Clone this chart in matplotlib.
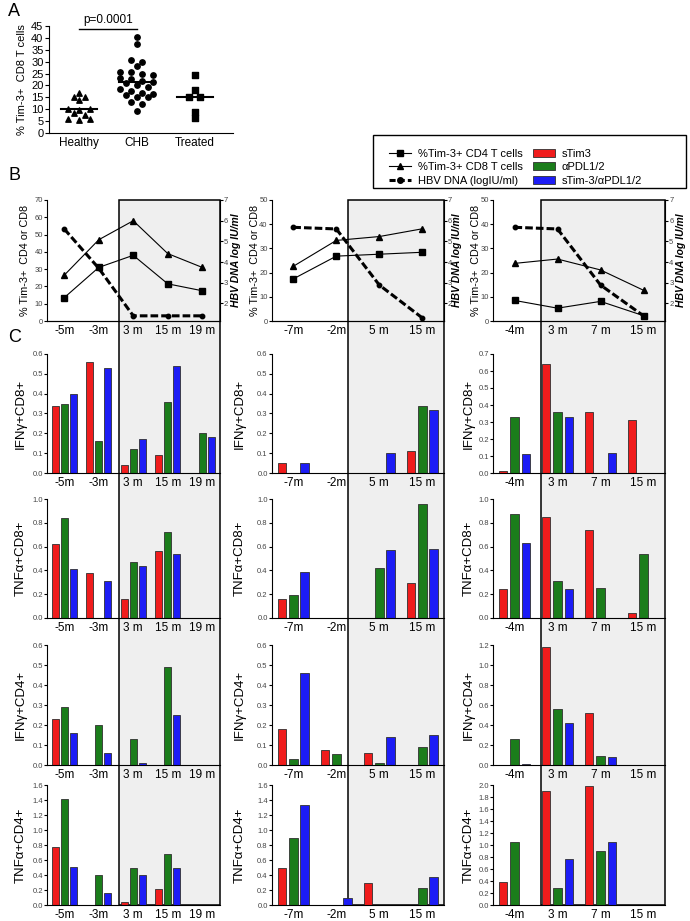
import numpy as np
import matplotlib
matplotlib.use('Agg')
import matplotlib.pyplot as plt
from matplotlib.patches import Rectangle, Patch
from matplotlib.lines import Line2D

plt.rcParams['font.family'] = ['Liberation Sans', 'DejaVu Sans']

W, H = 690, 921

# ---- panel A data
groups = ['Healthy', 'CHB', 'Treated']
healthy = [16.8, 15.1, 15.0, 13.7, 10.1, 9.8, 10.1, 8.4, 7.7, 6.0, 5.6, 5.8]
chb = [40.5, 37.3, 30.6, 30.0, 28.0, 25.8, 25.8, 24.9, 24.3, 23.0, 22.6, 22.0, 21.6,
       21.0, 20.0, 19.5, 18.4, 17.6, 17.0, 16.4, 15.8, 15.2, 15.0, 13.0, 12.4, 9.4]
treated = [24.5, 18.0, 15.2, 15.0, 8.7, 6.2]
p_text = 'p=0.0001'
p_level = 43.7

# ---- panel B data (one list per patient)
b_times = [['-5m', '-3m', '3 m', '15 m', '19 m'],
           ['-7m', '-2m', '5 m', '15 m'],
           ['-4m', '3 m', '7 m', '15 m']]
b_cd4 = [[13.5, 31.0, 38.0, 21.5, 17.5],
         [17.4, 26.8, 27.6, 28.4],
         [8.5, 5.3, 8.1, 2.2]]
b_cd8 = [[26.5, 47.0, 58.0, 39.0, 31.0],
         [22.6, 33.3, 34.9, 38.1],
         [23.8, 25.6, 21.1, 12.7]]
b_hbv = [[5.6, 3.7, 1.4, 1.4, 1.4],
         [5.68, 5.6, 2.89, 1.3],
         [5.68, 5.6, 2.89, 1.4]]
b_ymax = [70, 50, 50]
# treatment start (between visits)
treat_start = [1.585, 1.28, 0.61]

# ---- panel C data [row][patient][visit]
c_labels = ['IFN\u03b3+CD8+', 'TNF\u03b1+CD8+', 'IFN\u03b3+CD4+', 'TNF\u03b1+CD4+']
c_ymax = [[0.6, 0.6, 0.7], [1.0, 1.0, 1.0], [0.6, 0.6, 1.2], [1.6, 1.6, 2.0]]
c_step = [[0.1, 0.1, 0.1], [0.2, 0.2, 0.2], [0.1, 0.1, 0.2], [0.2, 0.2, 0.2]]
c_stim3 = [[[0.34, 0.56, 0.04, 0.09, 0], [0.05, 0, 0, 0.11], [0.01, 0.64, 0.36, 0.31]],
           [[0.62, 0.38, 0.16, 0.56, 0], [0.16, 0, 0, 0.29], [0.24, 0.85, 0.74, 0.04]],
           [[0.23, 0, 0, 0, 0], [0.18, 0.075, 0.06, 0], [0, 1.18, 0.52, 0]],
           [[0.78, 0, 0.04, 0.22, 0], [0.50, 0, 0.29, 0], [0.38, 1.90, 1.99, 0]]]
c_apdl = [[[0.35, 0.16, 0.12, 0.36, 0.20], [0, 0, 0, 0.34], [0.33, 0.36, 0, 0]],
          [[0.84, 0, 0.47, 0.72, 0], [0.19, 0, 0.42, 0.96], [0.87, 0.31, 0.25, 0.54]],
          [[0.29, 0.20, 0.13, 0.49, 0], [0.03, 0.055, 0.01, 0.09], [0.26, 0.56, 0.09, 0]],
          [[1.42, 0.40, 0.49, 0.68, 0], [0.89, 0, 0, 0.23], [1.05, 0.29, 0.90, 0]]]
c_combo = [[[0.40, 0.53, 0.17, 0.54, 0.18], [0.05, 0, 0.10, 0.32], [0.11, 0.33, 0.12, 0]],
           [[0.41, 0.31, 0.44, 0.54, 0], [0.39, 0, 0.57, 0.58], [0.63, 0.24, 0, 0]],
           [[0.16, 0.06, 0.01, 0.25, 0], [0.46, 0, 0.14, 0.15], [0.01, 0.42, 0.08, 0]],
           [[0.51, 0.16, 0.40, 0.49, 0], [1.34, 0.10, 0, 0.37], [0, 0.77, 1.05, 0]]]
bar_names = ['sTim3', '\u03b1PDL1/2', 'sTim-3/\u03b1PDL1/2']
bar_colors = ['#f01c1c', '#1b7d1b', '#1c1cf5']

# ---- layout in pixels
col_x = [(47, 219.5), (271.8, 443.8), (493, 665)]
row_b = (200, 321)
rows_c = [(354, 473), (499, 618), (645, 765), (785, 905)]
b_left_lab = [30, 260, 481]
b_right_lab = [231, 452, 676]
c_lab = [27, 246, 475]
gray = '#efefef'
tick_gray = '#444444'


def rect(l, t, r, b):
	return [l / W, 1 - b / H, (r - l) / W, (b - t) / H]


def swarm(values, center, width=2.5, step=0.19):
	v = np.asarray(values, float)
	bins = np.round(v / width).astype(int)
	x = np.zeros(len(v))
	for b in np.unique(bins):
		idx = np.where(bins == b)[0]
		x[idx] = center + (np.arange(len(idx)) - (len(idx) - 1) / 2) * step
	return x


def panel_a(fig):
	ax = fig.add_axes(rect(49, 26, 233, 133))
	markers = ['^', 'o', 's']
	for i, vals in enumerate([healthy, chb, treated]):
		ax.scatter(swarm(vals, i), vals, marker=markers[i], s=15, color='black', zorder=3)
		ax.plot([i - 0.31, i + 0.31], [np.median(vals)] * 2, color='black', lw=1.5)
	ax.plot([0, 1], [p_level, p_level], color='black', lw=1, clip_on=False)
	ax.text(0.5, p_level + 1.2, p_text, ha='center', va='bottom', fontsize=8.5)
	ax.set_xlim(-0.52, 2.66)
	ax.set_ylim(0, 45)
	ax.set_yticks(np.arange(0, 46, 5))
	ax.set_xticks(range(3))
	ax.set_xticklabels(groups, fontsize=8.5)
	ax.tick_params(axis='x', length=0, pad=3)
	ax.tick_params(axis='y', labelsize=8, length=3, pad=1)
	for s in ['top', 'right']:
		ax.spines[s].set_visible(False)
	ax.set_ylabel('% Tim-3+  CD8 T cells', fontsize=8)
	ax.yaxis.set_label_coords((27 - 49) / (233 - 49), 0.5)


def panel_b(fig, j):
	l, r = col_x[j]
	ax = fig.add_axes(rect(l, row_b[0], r, row_b[1]))
	ax.set_facecolor('none')
	n = len(b_times[j])
	x = np.arange(n)
	ax.plot(x, b_cd4[j], color='black', lw=0.8, marker='s', ms=4, zorder=3)
	ax.plot(x, b_cd8[j], color='black', lw=0.8, marker='^', ms=4, zorder=3)
	ax.set_xlim(-0.5, n - 0.5)
	ax.set_ylim(0, b_ymax[j])
	ax.set_yticks(np.arange(0, b_ymax[j] + 1, 10))
	ax.set_xticks(x)
	ax.set_xticklabels(b_times[j], fontsize=8.5)
	ax.tick_params(axis='x', length=0, pad=3)
	ax.tick_params(axis='y', labelsize=5.5, length=2, pad=1, labelcolor=tick_gray)
	ax.spines['top'].set_visible(False)
	ax.spines['right'].set_visible(False)
	ax.set_ylabel('% Tim-3+  CD4 or CD8', fontsize=7.8)
	ax.yaxis.set_label_coords((b_left_lab[j] - l) / (r - l), 0.5)

	ax2 = ax.twinx()
	ax2.plot(x, b_hbv[j], color='black', lw=2.2, ls=(0, (2.5, 1)), marker='o', ms=3.2, zorder=3)
	ax2.set_ylim(1.15, 7)
	ax2.set_yticks(range(2, 8))
	ax2.tick_params(axis='y', labelsize=5.5, length=2, pad=1, labelcolor=tick_gray)
	ax2.spines['top'].set_visible(False)
	ax2.spines['left'].set_visible(False)
	ax2.set_ylabel('HBV DNA log IU/ml', fontsize=7.5, fontweight='bold', fontstyle='italic')
	ax2.yaxis.set_label_coords((b_right_lab[j] - l) / (r - l), 0.5)
	return ax


def panel_c(fig, i, j):
	l, r = col_x[j]
	t, b = rows_c[i]
	ax = fig.add_axes(rect(l, t, r, b))
	ax.set_facecolor('none')
	n = len(b_times[j])
	x = np.arange(n)
	for k, vals in enumerate([c_stim3[i][j], c_apdl[i][j], c_combo[i][j]]):
		ax.bar(x + (k - 1) * 0.265, vals, width=0.2, color=bar_colors[k],
			edgecolor='#303030', lw=0.6, zorder=2)
	ax.set_xlim(-0.5, n - 0.5)
	ax.set_ylim(0, c_ymax[i][j])
	ax.set_yticks(np.arange(0, c_ymax[i][j] + 1e-6, c_step[i][j]))
	ax.yaxis.set_major_formatter(matplotlib.ticker.FormatStrFormatter('%.1f'))
	ax.set_xticks(x)
	ax.set_xticklabels(b_times[j], fontsize=8.5)
	ax.tick_params(axis='x', length=0, pad=3)
	ax.tick_params(axis='y', labelsize=5.5, length=2, pad=1, labelcolor=tick_gray)
	ax.spines['top'].set_visible(False)
	ax.spines['right'].set_visible(False)
	ax.set_ylabel(c_labels[i], fontsize=9.5)
	ax.yaxis.set_label_coords((c_lab[j] - l) / (r - l), 0.5)
	return ax


fig = plt.figure(figsize=(W / 100, H / 100), dpi=100)

panel_a(fig)

for j in range(3):
	axb = panel_b(fig, j)
	for i in range(4):
		axc = panel_c(fig, i, j)
	# shaded treatment window, continuous from B down to the last row of C
	inv = fig.transFigure.inverted()
	x0 = inv.transform(axb.transData.transform((treat_start[j], 0)))[0]
	x1 = inv.transform(axb.transAxes.transform((1, 0)))[0]
	y1 = inv.transform(axb.transAxes.transform((0, 1)))[1]
	y0 = inv.transform(axc.transAxes.transform((0, 0)))[1]
	fig.add_artist(Rectangle((x0, y0), x1 - x0, y1 - y0, transform=fig.transFigure,
		facecolor=gray, edgecolor='black', lw=1.1, zorder=-1))

# legend, frame drawn separately since the box is wider than its entries
handles = [
	Line2D([], [], color='black', lw=0.8, marker='s', ms=4),
	Line2D([], [], color='black', lw=0.8, marker='^', ms=4),
	Line2D([], [], color='black', lw=2.2, ls=(0, (2, 1)), marker='o', ms=4),
] + [Patch(facecolor=c, edgecolor='#303030', lw=0.6) for c in bar_colors]
labels = ['%Tim-3+ CD4 T cells', '%Tim-3+ CD8 T cells', 'HBV DNA (logIU/ml)'] + bar_names
fig.legend(handles, labels, ncol=2, loc='upper left',
	bbox_to_anchor=(380 / W, 1 - 140 / H), fontsize=8, frameon=False,
	handlelength=2.0, handletextpad=0.6, columnspacing=0.9,
	labelspacing=0.3, borderpad=0.3)
fig.add_artist(Rectangle((372.7 / W, 1 - 188 / H), (686 - 372.7) / W, 53 / H,
	transform=fig.transFigure, facecolor='none', edgecolor='black', lw=1))

fig.text(8 / W, 1 - 12 / H, 'A', fontsize=13, va='center')
fig.text(8 / W, 1 - 175 / H, 'B', fontsize=13, va='center')
fig.text(8 / W, 1 - 337 / H, 'C', fontsize=13, va='center')

fig.savefig('out.png', dpi=100)
